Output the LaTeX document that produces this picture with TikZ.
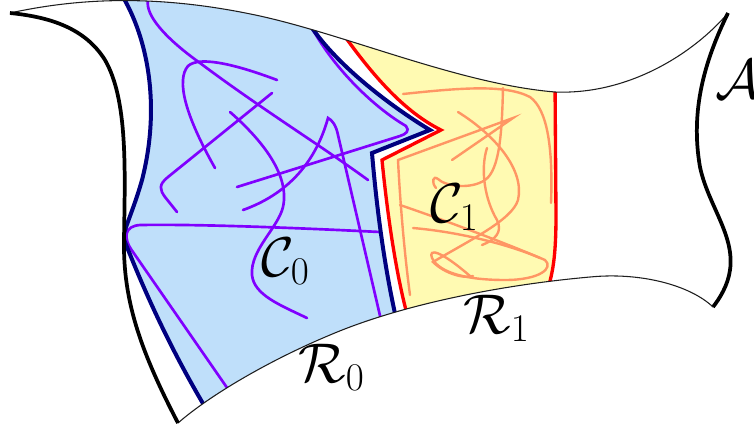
\RequirePackage{fix-cm}
\documentclass[tikz,border=0pt]{standalone}

\tikzset{every picture/.style={line width=0.75pt}}
\tikzset{
  rim/.style={line width=2.8, color=black},
  seam/.style={line width=0.8, color={rgb, 255:red, 30; green, 30; blue, 30}},
  fillC0/.style={fill={rgb, 255:red, 191; green, 223; blue, 250}},
  fillC1/.style={fill={rgb, 255:red, 255; green, 250; blue, 178}},
  wallC0/.style={line width=3, color={rgb, 255:red, 0; green, 0; blue, 128}},
  wallC1/.style={line width=2.5, color={rgb, 255:red, 255; green, 0; blue, 0}},
  pathC0/.style={line width=2, color={rgb, 255:red, 128; green, 0; blue, 255}, line cap=round},
  pathC1/.style={line width=1.8, color={rgb, 255:red, 255; green, 150; blue, 100}, line cap=round},
  lbl/.style={inner sep=0pt, anchor=base west, font=\fontsize{42}{48}\selectfont},
}

\begin{document}
\begin{tikzpicture}[x=0.75pt,y=0.75pt,yscale=-1,xscale=1]
\useasboundingbox (0,0) rectangle (754,430);

%Corners of the annulus
\coordinate (cuspNW) at (10,13);
\coordinate (cuspNE) at (728,13);
\coordinate (cuspSE) at (713,307);
\coordinate (cuspSW) at (178,423);

\begin{scope}
\clip (cuspNW) .. controls (70,0) and (150,-8) .. (260,16) .. controls (350,36) and (460,84) .. (555,92) .. controls (630,95) and (695,52) .. (cuspNE) .. controls (705,60) and (690,110) .. (700,167) .. controls (708,205) and (735,235) .. (730,270) .. controls (728,285) and (720,298) .. (cuspSE) .. controls (690,285) and (640,272) .. (590,277) .. controls (500,285) and (400,305) .. (330,335) .. controls (270,360) and (210,395) .. (cuspSW) .. controls (140,350) and (123,300) .. (124,240) .. controls (125,170) and (128,100) .. (105,60) .. controls (85,28) and (50,17) .. (cuspNW) -- cycle ;

%Shape: region C0
\fill [fillC0] (118,-20) -- (120,-8) .. controls (150,40) and (160,110) .. (142,180) .. controls (135,205) and (126,225) .. (123,237) .. controls (140,280) and (165,340) .. (208,412) -- (230,460) -- (400,460) -- (396,318) .. controls (383,260) and (376,200) .. (372,153) -- (430,130) .. controls (400,112) and (340,70) .. (310,25) -- (300,-20) -- cycle ;
%Shape: region C1
\fill [fillC1] (335,15) -- (346,38) .. controls (375,78) and (405,112) .. (441,130) -- (382,160) .. controls (387,210) and (395,270) .. (408,318) -- (420,360) -- (560,360) -- (549,285) .. controls (553,270) and (556,255) .. (556,215) -- (555,60) -- cycle ;

%Curve Lines: trajectories in C0
\draw [pathC0] (148,0) .. controls (145,15) and (165,38) .. (200,63) .. controls (260,108) and (320,145) .. (368,180) ;
\draw [pathC0] (277,80) .. controls (240,66) and (200,55) .. (188,66) .. controls (176,80) and (185,115) .. (215,168) ;
\draw [pathC0] (272,93) -- (168,177) .. controls (158,185) and (160,190) .. (165,197) -- (177,212) ;
\draw [pathC0] (230,112) .. controls (262,140) and (290,175) .. (283,207) .. controls (278,228) and (250,250) .. (252,275) .. controls (254,295) and (280,305) .. (307,318) ;
\draw [pathC0] (243,210) .. controls (285,195) and (315,165) .. (328,118) .. controls (332,120) and (336,125) .. (338,135) -- (381,320) ;
\draw [pathC0] (237,187) -- (400,136) .. controls (406,134) and (410,131) .. (406,126) .. controls (375,108) and (335,70) .. (312,28) ;
\draw [pathC0] (230,392) -- (133,252) .. controls (122,237) and (125,226) .. (140,225) .. controls (200,224) and (300,228) .. (380,232) ;

%Curve Lines: trajectories in C1
\draw [pathC1] (403,94) .. controls (460,88) and (505,84) .. (530,97) .. controls (548,110) and (553,150) .. (551,203) ;
\draw [pathC1] (503,88) .. controls (502,130) and (500,170) .. (485,180) .. controls (470,190) and (445,186) .. (438,179) .. controls (433,175) and (431,182) .. (436,188) ;
\draw [pathC1] (458,112) .. controls (495,135) and (525,170) .. (518,200) .. controls (512,220) and (470,240) .. (433,262) .. controls (445,274) and (465,279) .. (473,276) ;
\draw [pathC1] (452,160) -- (513,118) -- (398,160) .. controls (400,200) and (404,250) .. (410,295) ;
\draw [pathC1] (487,148) .. controls (480,170) and (485,200) .. (497,220) .. controls (503,232) and (495,240) .. (482,245) ;
\draw [pathC1] (400,205) .. controls (450,222) and (510,245) .. (545,260) .. controls (554,268) and (540,280) .. (505,280) .. controls (470,280) and (440,274) .. (432,258) .. controls (428,248) and (440,250) .. (470,276) ;
\draw [pathC1] (413,228) .. controls (460,232) and (510,245) .. (540,258) ;

%Curve Lines: boundaries of C0 and C1
\draw [wallC0] (120,-8) .. controls (150,40) and (160,110) .. (142,180) .. controls (135,205) and (126,225) .. (123,237) .. controls (140,280) and (165,340) .. (208,412) ;
\draw [wallC0] (310,25) .. controls (340,70) and (400,112) .. (430,130) -- (372,153) .. controls (376,200) and (383,260) .. (396,318) ;
\draw [wallC1] (346,38) .. controls (375,78) and (405,112) .. (441,130) -- (382,160) .. controls (387,210) and (395,270) .. (408,318) ;
\draw [wallC1] (555,80) -- (556,215) .. controls (556,255) and (553,270) .. (549,285) ;
\end{scope}

%Curve Lines: outline of A
\draw [seam] (cuspNW) .. controls (70,0) and (150,-8) .. (260,16) .. controls (350,36) and (460,84) .. (555,92) .. controls (630,95) and (695,52) .. (cuspNE) ;
\draw [rim] (cuspNE) .. controls (705,60) and (690,110) .. (700,167) .. controls (708,205) and (735,235) .. (730,270) .. controls (728,285) and (720,298) .. (cuspSE) ;
\draw [seam] (cuspSE) .. controls (690,285) and (640,272) .. (590,277) .. controls (500,285) and (400,305) .. (330,335) .. controls (270,360) and (210,395) .. (cuspSW) ;
\draw [rim] (cuspSW) .. controls (140,350) and (123,300) .. (124,240) .. controls (125,170) and (128,100) .. (105,60) .. controls (85,28) and (50,17) .. (cuspNW) ;

% Text Node
\node [lbl] (lblA) at (715,98) {$\mathcal{A}$};
% Text Node
\node [lbl] (lblC0) at (261,276) {$\mathcal{C}_0$};
% Text Node
\node [lbl] (lblC1) at (430,222) {$\mathcal{C}_1$};
% Text Node
\node [lbl] (lblR0) at (298,382) {$\mathcal{R}_0$};
% Text Node
\node [lbl] (lblR1) at (463,333) {$\mathcal{R}_1$};

\end{tikzpicture}
\end{document}
